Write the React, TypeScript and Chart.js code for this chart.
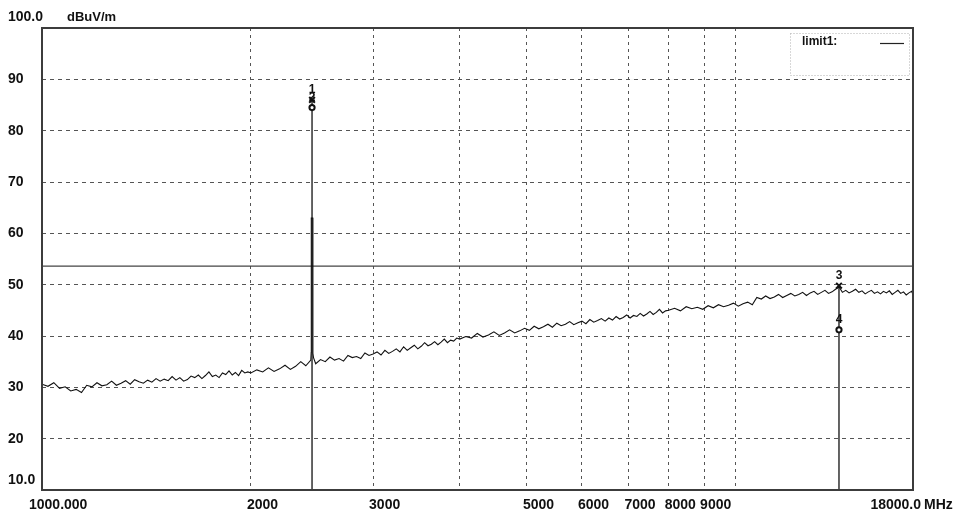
import React, { useEffect, useRef } from "react";
import { Chart, registerables } from "chart.js";

Chart.register(...registerables);

// ---- trace data (MHz, dBuV/m) ----
const traceFreqA = [1000, 1020, 1040, 1060, 1080, 1100, 1120, 1140, 1160, 1180, 1200, 1220, 1240, 1260, 1280, 1300, 1320, 1340, 1360, 1380, 1400, 1420, 1440, 1460, 1480, 1500, 1520, 1540, 1560, 1580, 1600, 1620, 1640, 1660, 1680, 1700, 1720, 1740, 1760, 1780, 1800, 1820, 1840, 1860, 1880, 1900, 1920, 1940, 1960, 1980];
const traceLevelA = [30.6, 30.2, 30.9, 29.8, 30.1, 29.3, 29.6, 29.0, 30.4, 30.1, 30.9, 30.3, 30.5, 31.2, 30.4, 30.8, 31.3, 30.6, 31.5, 31.1, 30.8, 31.4, 31.0, 31.7, 31.2, 31.6, 31.3, 32.1, 31.4, 31.9, 31.2, 31.5, 32.2, 31.9, 32.4, 31.7, 32.3, 33.0, 32.1, 32.4, 31.9, 32.8, 32.5, 33.2, 32.4, 32.9, 32.3, 33.3, 32.8, 33.0];

const traceFreqB = [2000, 2040, 2080, 2120, 2160, 2200, 2240, 2280, 2320, 2360, 2400, 2440, 2443, 2444, 2456, 2457, 2462];
const traceLevelB = [32.8, 33.4, 33.0, 33.8, 33.1, 33.6, 34.3, 33.5, 34.1, 35.0, 34.2, 35.3, 36.8, 63.0, 63.0, 36.6, 35.8];

const traceFreqC = [2480, 2520, 2560, 2600, 2640, 2680, 2720, 2760, 2800, 2840, 2880, 2920, 2960, 3000, 3040, 3080, 3120, 3160, 3200, 3240, 3280, 3320, 3360, 3400, 3440, 3480, 3520, 3560, 3600, 3640, 3680, 3720, 3760, 3800, 3840, 3880, 3920, 3960];
const traceLevelC = [34.6, 35.4, 35.0, 35.9, 35.3, 35.6, 35.1, 36.2, 35.8, 36.0, 35.6, 36.7, 36.2, 36.5, 36.9, 36.3, 37.2, 36.6, 37.0, 37.5, 36.9, 37.9, 37.2, 37.7, 38.2, 37.5, 38.0, 38.7, 38.1, 38.4, 38.9, 38.3, 38.8, 39.4, 38.7, 39.2, 39.0, 39.6];

const traceFreqD = [4000, 4080, 4160, 4240, 4320, 4400, 4480, 4560, 4640, 4720, 4800, 4880, 4960, 5040, 5120, 5200, 5280, 5360, 5440, 5520, 5600, 5680, 5760, 5840, 5920, 6000, 6080, 6160, 6240, 6320, 6400, 6480, 6560, 6640, 6720, 6800, 6880, 6960, 7040, 7120, 7200, 7280, 7360, 7440, 7520, 7600, 7680, 7760, 7840, 7920];
const traceLevelD = [39.4, 39.9, 39.6, 40.5, 39.8, 40.2, 40.8, 40.1, 40.6, 41.2, 40.6, 41.0, 41.5, 41.1, 41.9, 41.4, 41.8, 42.3, 41.7, 42.5, 42.0, 42.3, 42.8, 42.2, 42.6, 42.9, 42.4, 43.2, 42.7, 43.0, 43.4, 42.9, 43.5, 43.1, 43.8, 43.3, 43.6, 44.1, 43.5, 44.0, 43.8, 44.4, 43.9, 44.3, 44.8, 44.2, 44.6, 45.2, 44.5, 44.9];

const traceFreqE = [8000, 8160, 8320, 8480, 8640, 8800, 8960, 9120, 9280, 9440, 9600, 9760, 9920, 10080, 10240, 10400, 10560, 10720, 10880, 11040, 11200, 11360, 11520, 11680, 11840, 12000, 12160, 12320, 12480, 12640, 12800, 12960, 13120, 13280, 13440, 13600, 13760, 13920, 14080, 14240, 14400, 14560, 14720, 14880, 15040, 15200, 15360, 15520, 15680, 15840, 16000, 16160, 16320, 16480, 16640, 16800, 16960, 17120, 17280, 17440, 17600, 17760, 17920, 18000];
const traceLevelE = [45.0, 45.4, 44.9, 45.7, 45.3, 45.6, 45.2, 45.9, 45.5, 46.1, 45.7, 46.0, 46.4, 45.8, 46.3, 46.6, 46.1, 47.5, 47.2, 47.8, 47.3, 47.6, 48.1, 47.5, 47.9, 48.3, 47.8, 48.1, 48.5, 47.9, 48.4, 48.7, 48.1, 48.5, 48.9, 48.3, 48.6, 49.1, 49.6, 48.5, 48.9, 48.4, 48.7, 49.1, 48.5, 48.8, 48.2, 48.6, 48.9, 48.3, 48.6, 48.2, 48.7, 48.4, 48.8, 48.1, 48.5, 48.9, 48.3, 48.6, 48.0, 48.4, 48.7, 48.1];

// ---- limit ----
const limitLabel = "limit1:";
const limitFreqs = [1000, 18000];
const limitLevels = [53.6, 53.6];

// ---- markers ----
const markerNames = ["1", "2", "3", "4"];
const markerFreqs = [2450, 2450, 14080, 14080];
const markerLevels = [86.0, 84.5, 49.8, 41.2];
const markerShapes = ["x", "o", "x", "o"];

// ---- axes ----
const yMin = 10;
const yMax = 100;
const yTickValues = [10, 20, 30, 40, 50, 60, 70, 80, 90, 100];
const yTickLabels = ["10.0", "20", "30", "40", "50", "60", "70", "80", "90", "100.0"];
const yUnit = "dBuV/m";
const xMin = 1000;
const xMax = 18000;
const xTickValues = [1000, 2000, 3000, 4000, 5000, 6000, 7000, 8000, 9000, 10000, 18000];
const xTickLabels = ["1000.000", "2000", "3000", "", "5000", "6000", "7000", "8000", "9000", "", "18000.0"];
const xUnit = "MHz";

const FONT = '"Liberation Sans", Arial, sans-serif';

function pairs(fs: number[], ls: number[]) {
  return fs.map((f, i) => ({ x: f, y: ls[i] }));
}

export default function App() {
  const ref = useRef<HTMLCanvasElement | null>(null);

  useEffect(() => {
    if (!ref.current) return;
    const trace = [
      ...pairs(traceFreqA, traceLevelA),
      ...pairs(traceFreqB, traceLevelB),
      ...pairs(traceFreqC, traceLevelC),
      ...pairs(traceFreqD, traceLevelD),
      ...pairs(traceFreqE, traceLevelE),
    ];

    const markerLineSets = markerFreqs
      .map((f, i) => ({ f, l: markerLevels[i], s: markerShapes[i] }))
      .filter((m) => m.s === "x")
      .map((m) => ({
        type: "line" as const,
        data: [
          { x: m.f, y: yMin },
          { x: m.f, y: m.l },
        ],
        borderColor: "#111",
        borderWidth: 1.3,
        pointRadius: 0,
        order: 2,
      }));

    const markerPointSets = markerFreqs.map((f, i) => ({
      type: "scatter" as const,
      data: [{ x: f, y: markerLevels[i] }],
      pointStyle: markerShapes[i] === "x" ? "crossRot" : "circle",
      pointRadius: markerShapes[i] === "x" ? 4 : 2.6,
      borderColor: "#111",
      backgroundColor: "#fff",
      pointBorderWidth: 2,
      borderWidth: 2,
      order: 1,
    }));

    const overlay = {
      id: "overlay",
      afterDatasetsDraw(chart: any) {
        const { ctx, chartArea: a, scales } = chart;
        const x = scales.x;
        const y = scales.y;
        ctx.save();
        // frame
        ctx.strokeStyle = "#3c3c3c";
        ctx.lineWidth = 2;
        ctx.setLineDash([]);
        ctx.strokeRect(a.left, a.top, a.right - a.left, a.bottom - a.top);

        ctx.fillStyle = "#111";
        // y labels
        ctx.font = `bold 14px ${FONT}`;
        ctx.textBaseline = "middle";
        ctx.textAlign = "left";
        yTickValues.forEach((v, i) => {
          let py = y.getPixelForValue(v);
          if (i === 0) py -= 10;
          if (i === yTickValues.length - 1) py -= 11;
          ctx.fillText(yTickLabels[i], 8, py);
        });
        // unit
        ctx.font = `bold 13px ${FONT}`;
        ctx.fillText(yUnit, 67, 17);

        // x labels
        ctx.font = `bold 14px ${FONT}`;
        const ly = a.bottom + 15;
        xTickValues.forEach((v, i) => {
          const lab = xTickLabels[i];
          if (!lab) return;
          const px = x.getPixelForValue(v);
          if (i === 0) {
            ctx.textAlign = "left";
            ctx.fillText(lab, px - 13, ly);
          } else if (i === xTickValues.length - 1) {
            ctx.textAlign = "right";
            ctx.fillText(lab, px + 8, ly);
            ctx.textAlign = "left";
            ctx.fillText(xUnit, px + 11, ly);
          } else {
            ctx.textAlign = "left";
            ctx.fillText(lab, px - 4, ly);
          }
        });

        // marker labels
        ctx.font = `bold 12px ${FONT}`;
        ctx.textAlign = "center";
        markerFreqs.forEach((f, i) => {
          const px = x.getPixelForValue(f);
          const py = y.getPixelForValue(markerLevels[i]);
          ctx.fillText(markerNames[i], px, py - 10);
        });

        // legend box
        ctx.strokeStyle = "#b0b0b0";
        ctx.lineWidth = 1;
        ctx.setLineDash([1, 2]);
        ctx.strokeRect(790.5, 33.5, 119, 42);
        ctx.setLineDash([]);
        ctx.font = `bold 12px ${FONT}`;
        ctx.textAlign = "left";
        ctx.fillStyle = "#111";
        ctx.fillText(limitLabel, 802, 42);
        ctx.strokeStyle = "#222";
        ctx.lineWidth = 1.2;
        ctx.beginPath();
        ctx.moveTo(880, 43.5);
        ctx.lineTo(904, 43.5);
        ctx.stroke();
        ctx.restore();
      },
    };

    const chart = new Chart(ref.current, {
      type: "line",
      data: {
        datasets: [
          {
            label: limitLabel,
            data: pairs(limitFreqs, limitLevels),
            borderColor: "#444",
            borderWidth: 1.2,
            pointRadius: 0,
            order: 4,
          },
          {
            label: "trace",
            data: trace,
            borderColor: "#111",
            borderWidth: 1.1,
            pointRadius: 0,
            tension: 0,
            order: 3,
          },
          ...markerLineSets,
          ...markerPointSets,
        ] as any,
      },
      options: {
        animation: false,
        responsive: false,
        devicePixelRatio: 1,
        layout: { padding: { left: 42, right: 41, top: 28, bottom: 25 } },
        plugins: { legend: { display: false }, tooltip: { enabled: false } },
        scales: {
          x: {
            type: "logarithmic",
            min: xMin,
            max: xMax,
            afterBuildTicks: (s: any) => {
              s.ticks = xTickValues.map((v) => ({ value: v }));
            },
            afterFit: (s: any) => {
              s.height = 0;
            },
            ticks: { display: false },
            grid: { color: "#555", lineWidth: 1, drawTicks: false },
            border: { display: false, dash: [3, 4] },
          },
          y: {
            type: "linear",
            min: yMin,
            max: yMax,
            afterBuildTicks: (s: any) => {
              s.ticks = yTickValues.map((v) => ({ value: v }));
            },
            afterFit: (s: any) => {
              s.width = 0;
            },
            ticks: { display: false },
            grid: { color: "#555", lineWidth: 1, drawTicks: false },
            border: { display: false, dash: [4, 4] },
          },
        },
      } as any,
      plugins: [overlay],
    });
    return () => chart.destroy();
  }, []);

  return (
    <div style={{ position: "absolute", left: 0, top: 0, width: 954, height: 515, background: "#fff" }}>
      <canvas ref={ref} width={954} height={515} style={{ display: "block" }} />
    </div>
  );
}
